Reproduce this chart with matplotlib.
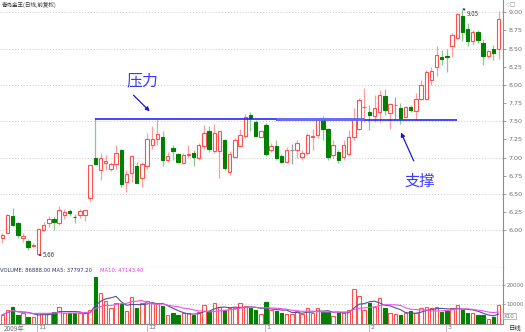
import numpy as np
import pandas as pd
import matplotlib
matplotlib.use('Agg')
import matplotlib.pyplot as plt

plt.rcParams['font.family'] = ['Noto Sans CJK SC', 'DejaVu Sans']

# daily OHLC (前复权)
opens = [5.89, 5.97, 6.20, 6.10, 5.89, 5.86, 5.79, 5.68, 6.00, 6.10,
         6.16, 6.10, 6.21, 6.27, 6.19, 6.21, 6.21, 6.44, 6.99, 6.83,
         6.92, 6.85, 6.91, 7.10, 6.66, 6.79, 6.89, 6.72, 6.89, 7.18,
         7.26, 7.29, 6.97, 7.13, 7.05, 6.92, 7.03, 7.06, 6.99, 7.16,
         7.37, 7.09, 7.09, 7.24, 6.80, 7.01, 7.16, 7.30, 7.59, 7.49,
         7.29, 7.45, 7.10, 7.16, 7.02, 6.94, 7.10, 7.10, 7.01, 7.07,
         7.29, 7.31, 7.52, 7.39, 7.04, 7.08, 7.01, 7.05, 7.28, 7.40,
         7.69, 7.63, 7.57, 7.63, 7.85, 7.61, 7.72, 7.68, 7.56, 7.70,
         7.64, 7.80, 7.80, 8.07, 8.25, 8.38, 8.39, 8.53, 8.64, 8.95,
         8.77, 8.60, 8.73, 8.58, 8.40, 8.50, 8.50]
closes = [5.94, 6.21, 6.08, 5.94, 5.92, 5.77, 5.80, 6.02, 6.07, 6.16,
          6.11, 6.28, 6.25, 6.24, 6.18, 6.27, 6.28, 6.90, 6.91, 7.00,
          6.95, 6.91, 7.07, 6.64, 6.78, 7.02, 6.65, 6.91, 7.25, 7.26,
          7.32, 6.97, 7.02, 7.09, 6.94, 7.04, 7.05, 7.01, 7.18, 7.34,
          7.12, 7.34, 7.36, 6.86, 7.05, 7.24, 7.31, 7.56, 7.54, 7.30,
          7.36, 7.05, 7.16, 7.00, 6.94, 7.11, 7.10, 7.20, 7.07, 7.31,
          7.30, 7.52, 7.40, 7.01, 7.17, 6.97, 7.17, 7.28, 7.53, 7.79,
          7.70, 7.59, 7.68, 7.86, 7.65, 7.74, 7.72, 7.54, 7.70, 7.66,
          7.81, 8.00, 8.18, 8.19, 8.41, 8.35, 8.385, 8.69, 8.98, 8.73,
          8.60, 8.73, 8.62, 8.40, 8.46, 8.44, 8.91]
highs = [5.96, 6.22, 6.31, 6.12, 5.97, 5.88, 5.83, 6.03, 6.12, 6.20,
         6.19, 6.33, 6.30, 6.29, 6.23, 6.29, 6.28, 6.90, 7.55, 7.06,
         7.04, 6.94, 7.18, 7.12, 6.83, 7.04, 6.94, 6.94, 7.34, 7.44,
         7.53, 7.36, 7.08, 7.17, 7.06, 7.06, 7.17, 7.11, 7.20, 7.45,
         7.43, 7.46, 7.37, 7.25, 7.09, 7.27, 7.40, 7.60, 7.63, 7.52,
         7.38, 7.48, 7.20, 7.24, 7.05, 7.15, 7.19, 7.24, 7.11, 7.34,
         7.40, 7.55, 7.57, 7.41, 7.24, 7.11, 7.24, 7.38, 7.68, 7.82,
         7.96, 7.72, 7.86, 7.93, 7.94, 7.75, 7.84, 7.75, 7.71, 7.72,
         7.89, 8.07, 8.20, 8.25, 8.53, 8.48, 8.49, 8.71, 8.99, 9.05,
         8.85, 8.76, 8.76, 8.63, 8.48, 8.55, 9.01]
lows = [5.82, 5.96, 6.06, 5.90, 5.84, 5.73, 5.77, 5.66, 5.99, 6.05,
        6.01, 6.07, 6.15, 6.20, 6.10, 6.17, 6.13, 6.41, 6.90, 6.69,
        6.83, 6.82, 6.85, 6.60, 6.53, 6.67, 6.65, 6.60, 6.85, 7.12,
        7.18, 6.88, 6.94, 6.97, 6.92, 6.91, 7.00, 6.88, 6.97, 7.12,
        7.08, 7.06, 6.72, 6.83, 6.76, 6.99, 7.14, 7.27, 7.36, 7.28,
        7.28, 7.02, 7.08, 6.97, 6.93, 6.93, 6.91, 6.99, 6.97, 7.04,
        7.10, 7.27, 7.24, 6.97, 7.00, 6.93, 6.97, 7.04, 7.24, 7.38,
        7.49, 7.38, 7.49, 7.49, 7.59, 7.40, 7.53, 7.46, 7.54, 7.63,
        7.52, 7.79, 7.79, 8.00, 8.12, 8.28, 8.18, 8.39, 8.63, 8.61,
        8.53, 8.55, 8.57, 8.27, 8.37, 8.34, 8.36]
volumes = [4360, 6900, 8600, 4360, 5200, 3500, 3200, 5550, 5200, 5200,
           6050, 8600, 5550, 5200, 5200, 5200, 5200, 6900, 23700, 15800,
           11700, 7800, 10700, 10000, 6560, 13700, 7800, 10300, 11700, 10300,
           10300, 9000, 4360, 5200, 4360, 5200, 5200, 4360, 6050, 9500,
           6560, 10700, 8600, 6900, 7800, 7800, 10300, 9000, 7800, 6900,
           4870, 10900, 6900, 6560, 5200, 4870, 4870, 6560, 4870, 7800,
           5200, 7800, 6050, 6050, 3850, 5550, 5550, 6900, 17500, 14100,
           6900, 10300, 8600, 12900, 8100, 5550, 4870, 4360, 5200, 6560,
           5200, 7800, 8600, 7800, 8600, 6050, 6560, 7800, 9500, 6900,
           5550, 5200, 4360, 4360, 2560, 3200, 9500]

month_idx = [6.7, 28, 50.8, 70.9, 85.8]
month_labels = ['11', '12', '1', '2', '3']

resist_level, resist_span = 7.535, (18, 70)
support_level, support_span = 7.52, (53, 88)

up_edge, up_wick = '#ff5050', '#ff9c9c'
dn_face, dn_wick = '#008000', '#8cc78c'
blue = '#1414ff'
axis_gray = '#8c8c8c'
text_gray = '#707070'

n = len(opens)
x = np.arange(n)
o = np.array(opens); c = np.array(closes)
h = np.array(highs); l = np.array(lows)
vol = pd.Series(volumes, dtype=float)
ma5 = vol.rolling(5, min_periods=1).mean()
ma10 = vol.rolling(10, min_periods=1).mean()

up = c > o
flat = c == o

fig = plt.figure(figsize=(5.25, 3.32), dpi=100)
ax = fig.add_axes([0, 64 / 332, 503 / 525, 268 / 332])
axv = fig.add_axes([0, 8.5 / 332, 503 / 525, 55.5 / 332])

xlim = (-2.3 / 5.17, (503 - 2.3) / 5.17)

# price panel
wick_cols = np.where(up, up_wick, dn_wick)
wick_cols[flat] = '#a0a0a0'
ax.vlines(x, l, h, colors=wick_cols, lw=0.9, zorder=2)
body_lo = np.minimum(o, c)
body_h = np.maximum(np.abs(c - o), 0.006)
faces = np.where(up, 'white', dn_face)
edges = np.where(up, up_edge, dn_face)
faces[flat] = '#909090'
edges[flat] = '#909090'
ax.bar(x, body_h, bottom=body_lo, width=0.66, color=faces,
       edgecolor=edges, linewidth=0.8, zorder=3)

for lv in np.arange(6.0, 9.01, 0.5):
    ax.axhline(lv, color='#c8c8c8', lw=0.7, ls=(0, (1, 2)), zorder=1)

ax.hlines(resist_level, *resist_span, color=blue, lw=1.1, zorder=4)
ax.hlines(support_level, *support_span, color=blue, lw=1.1, zorder=4)
ax.hlines((resist_level + support_level) / 2, support_span[0], resist_span[1],
          color='#7a7aff', lw=2.0, alpha=0.8, zorder=4)

ax.text(27.1, 8.05, '压力', color='#3a3aff', fontsize=11.5,
        ha='center', va='center')
ax.annotate('', xy=(28.9, 7.61), xytext=(25.0, 7.885),
            arrowprops=dict(arrowstyle='-|>', color='#1a1ad0', lw=0.9,
                            mutation_scale=6))
ax.text(80.8, 6.68, '支撑', color='#3a3aff', fontsize=11,
        ha='center', va='center')
ax.annotate('', xy=(76.9, 7.38), xytext=(79.8, 6.92),
            arrowprops=dict(arrowstyle='-|>', color='#1a1ad0', lw=0.9,
                            mutation_scale=6))

ax.annotate('5.66', xy=(7, 5.66), xytext=(7.8, 5.66), fontsize=4.5,
            color='#404040', va='center',
            arrowprops=dict(arrowstyle='-|>', color='#404040', lw=0.5,
                            mutation_scale=3, shrinkA=0, shrinkB=0))
ax.annotate('9.05', xy=(89, 9.05), xytext=(89.9, 8.98), fontsize=4.5,
            color='#404040', va='center',
            arrowprops=dict(arrowstyle='-|>', color='#404040', lw=0.5,
                            mutation_scale=3, shrinkA=0, shrinkB=0))

ax.set_xlim(xlim)
ax.set_ylim(5.482, 9.168)
ax.yaxis.tick_right()
ax.set_yticks(np.arange(6.0, 9.01, 0.25))
ax.set_yticklabels(['%.2f' % v for v in np.arange(6.0, 9.01, 0.25)],
                   fontsize=4.6, color=text_gray, family='DejaVu Sans')
ax.tick_params(axis='y', length=2, width=0.6, color=axis_gray, pad=2)
ax.set_xticks([])
for s in ['top', 'left']:
    ax.spines[s].set_visible(False)
ax.spines['right'].set_color(axis_gray)
ax.spines['right'].set_linewidth(0.8)
ax.spines['bottom'].set_color(axis_gray)
ax.spines['bottom'].set_linewidth(0.8)

# volume panel
vfaces = np.where(up, 'white', dn_face)
vedges = np.where(up, up_edge, dn_face)
vfaces[flat] = 'white'
vedges[flat] = up_edge
axv.bar(x, vol, width=0.66, color=vfaces, edgecolor=vedges, linewidth=0.8,
        zorder=3)
axv.plot(x, ma5, color='#50509a', lw=0.8, zorder=4)
axv.plot(x, ma10, color='#f050f0', lw=0.8, zorder=4)
for lv in [10000, 20000]:
    axv.axhline(lv, color='#c8c8c8', lw=0.7, ls=(0, (1, 2)), zorder=1)
axv.set_xlim(xlim)
axv.set_ylim(0, 28500)
axv.yaxis.tick_right()
axv.set_yticks([10000, 20000])
axv.set_yticklabels(['10000', '20000'], fontsize=4.0, color=text_gray,
                    family='DejaVu Sans')
axv.tick_params(axis='y', length=1.5, width=0.6, color=axis_gray, pad=1)
axv.set_xticks(month_idx)
axv.set_xticklabels([])
axv.tick_params(axis='x', length=6, width=0.6, color='#b0b0b0', direction='out')
for xi, lab in zip(month_idx, month_labels):
    axv.text(xi + 0.3, -0.02, lab, transform=axv.get_xaxis_transform(),
             fontsize=4.6, color=text_gray, ha='left', va='top',
             family='DejaVu Sans')
axv.text(0.2, -0.02, '2009年', transform=axv.get_xaxis_transform(),
         fontsize=4.6, color=text_gray, ha='left', va='top')
axv.spines['top'].set_visible(False)
axv.spines['left'].set_visible(False)
axv.spines['right'].set_color(axis_gray)
axv.spines['bottom'].set_color(axis_gray)
axv.spines['right'].set_linewidth(0.8)
axv.spines['bottom'].set_linewidth(0.8)

axv.text(0.0, 1.0, 'VOLUME: 86888.00 MA5: 37797.20', transform=axv.transAxes,
         fontsize=3.8, color='#33336a', ha='left', va='top',
         family='DejaVu Sans')
axv.text(100 / 503, 1.0, 'MA10: 47143.40', transform=axv.transAxes,
         fontsize=3.8, color='#e040e0', ha='left', va='top',
         family='DejaVu Sans')

fig.text(504 / 525, 1 - 316 / 332, 'X10', fontsize=4.0, color=text_gray,
         ha='left', va='center', family='DejaVu Sans',
         bbox=dict(boxstyle='square,pad=0.15', fc='white', ec='#a0a0a0', lw=0.5))
fig.text(509 / 525, 1 - 328 / 332, '日线', fontsize=4.6, color='#303030',
         ha='left', va='center')
fig.text(2 / 525, 1 - 5 / 332, '青岛金王(日线,前复权)', fontsize=4,
         color='#303030', ha='left', va='center')
fig.text(506 / 525, 1 - 5 / 332, '◇□', fontsize=4.5, color='#a0a0a0',
         ha='left', va='center', family='DejaVu Sans')

fig.savefig('out.png', dpi=100)
